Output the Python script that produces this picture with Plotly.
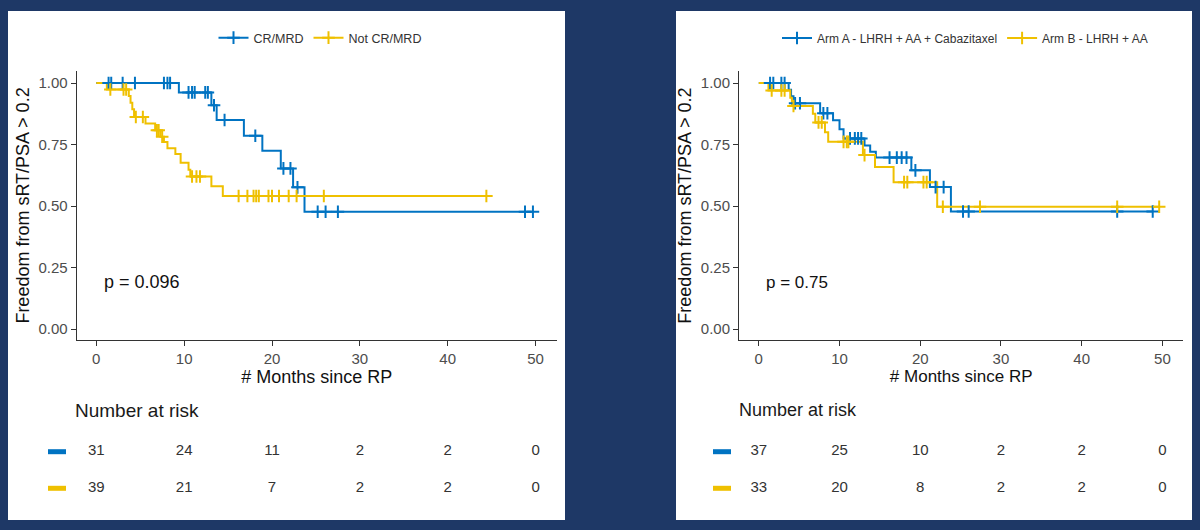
import numpy as np
import plotly.graph_objects as go

# ---------------- data ----------------
risk_times = [0, 10, 20, 30, 40, 50]

# Left panel: CR/MRD vs Not CR/MRD
left_names = ["CR/MRD", "Not CR/MRD"]
left_a_event_t = [9.4, 13.1, 13.7, 16.8, 18.9, 21.0, 22.4, 23.7]
left_a_event_s = [0.962, 0.910, 0.850, 0.786, 0.725, 0.653, 0.576, 0.477]
left_a_cens_t = [1.4, 1.7, 3.0, 4.4, 7.7, 8.1, 8.4, 10.5, 10.9, 11.2, 12.4, 12.7,
                 13.4, 14.6, 18.1, 21.3, 22.1, 22.9, 25.2, 26.1, 27.5, 48.8, 49.7]
left_b_event_t = [1.2, 3.7, 3.9, 4.1, 4.3, 5.6, 6.7, 7.3, 7.7, 8.1, 9.0, 9.6,
                  10.5, 10.7, 13.1, 14.4]
left_b_event_s = [0.974, 0.947, 0.920, 0.893, 0.862, 0.836, 0.808, 0.782, 0.760,
                  0.735, 0.712, 0.676, 0.648, 0.620, 0.580, 0.541]
left_b_cens_t = [1.6, 3.1, 3.4, 4.5, 5.3, 6.9, 7.1, 7.5, 10.9, 11.4, 11.8, 16.2,
                 17.2, 17.9, 18.2, 18.5, 19.6, 20.0, 20.8, 21.9, 22.8, 25.9, 44.4]
left_risk_a = [31, 24, 11, 2, 2, 0]
left_risk_b = [39, 21, 7, 2, 2, 0]
left_p = "p = 0.096"

# Right panel: Arm A vs Arm B
right_names = ["Arm A - LHRH + AA + Cabazitaxel", "Arm B - LHRH + AA"]
right_a_event_t = [3.7, 4.0, 4.3, 7.6, 9.2, 10.0, 10.5, 13.1, 13.8, 14.5, 18.9, 21.2, 23.8]
right_a_event_s = [0.973, 0.946, 0.918, 0.877, 0.849, 0.812, 0.775, 0.746, 0.721,
                   0.697, 0.645, 0.577, 0.478]
right_a_cens_t = [1.4, 1.8, 2.8, 3.2, 4.5, 5.1, 8.0, 8.5, 11.3, 11.9, 12.3, 12.7,
                  16.2, 17.1, 17.7, 18.3, 19.4, 21.9, 22.9, 25.3, 26.0, 44.4, 48.8]
right_b_event_t = [1.2, 3.9, 4.1, 6.7, 7.0, 8.2, 8.6, 12.9, 14.4, 16.7, 22.1]
right_b_event_s = [0.970, 0.940, 0.907, 0.875, 0.840, 0.800, 0.761, 0.707, 0.659,
                   0.597, 0.497]
right_b_cens_t = [1.6, 2.8, 3.2, 4.3, 7.4, 7.8, 10.5, 10.9, 11.1, 13.1, 18.0, 18.4,
                  20.4, 20.8, 22.8, 27.4, 44.4, 49.6]
right_risk_a = [37, 25, 10, 2, 2, 0]
right_risk_b = [33, 20, 8, 2, 2, 0]
right_p = "p = 0.75"

y_ticks = [0, 0.25, 0.5, 0.75, 1.0]
x_title = "# Months since RP"
y_title = "Freedom from sRT/PSA > 0.2"

# ---------------- styling ----------------
W, H = 1200, 530
def px(x):
    return x / W
def py(y):
    return 1 - y / H

BLUE = "#0073C2"
GOLD = "#EFC000"
NAVY = "#1e3866"
FONT = "Liberation Sans, Arial, Helvetica, sans-serif"
AXIS_COL = "#333333"
TICK_COL = "#4d4d4d"

fig = go.Figure()


def km(ev_t, ev_s, cens_t, color, name, xa, ya, legend):
    end_t = max(ev_t[-1], max(cens_t))
    xs = [0] + list(ev_t) + [end_t]
    ys = [1.0] + list(ev_s) + [ev_s[-1]]
    line = go.Scatter(x=xs, y=ys, mode="lines", line=dict(color=color, width=2, shape="hv"),
                      xaxis=xa, yaxis=ya, showlegend=False, hoverinfo="skip")
    steps = np.r_[1.0, np.array(ev_s)]
    idx = np.searchsorted(np.array(ev_t), np.array(cens_t), side="right")
    cy = steps[idx]
    marks = go.Scatter(x=cens_t, y=cy, mode="markers",
                       marker=dict(symbol="cross-thin", size=9,
                                   line=dict(color=color, width=2), color=color),
                       xaxis=xa, yaxis=ya, showlegend=False, hoverinfo="skip")
    leg = go.Scatter(x=[None], y=[None], mode="lines+markers", name=name,
                     line=dict(color=color, width=2),
                     marker=dict(symbol="cross-thin", size=9,
                                 line=dict(color=color, width=2), color=color),
                     xaxis=xa, yaxis=ya, legend=legend)
    return line, marks, leg


la = km(left_a_event_t, left_a_event_s, left_a_cens_t, BLUE, left_names[0], "x", "y", "legend")
lb = km(left_b_event_t, left_b_event_s, left_b_cens_t, GOLD, left_names[1], "x", "y", "legend")
ra = km(right_a_event_t, right_a_event_s, right_a_cens_t, BLUE, right_names[0], "x2", "y2", "legend2")
rb = km(right_b_event_t, right_b_event_s, right_b_cens_t, GOLD, right_names[1], "x2", "y2", "legend2")

for grp in [(la, lb), (ra, rb)]:
    a, b = grp
    fig.add_trace(a[0]); fig.add_trace(b[0])
    fig.add_trace(a[1]); fig.add_trace(b[1])
    fig.add_trace(a[2]); fig.add_trace(b[2])

# risk tables
fig.add_trace(go.Scatter(x=risk_times + risk_times, y=[1] * 6 + [0] * 6,
                         text=[str(v) for v in left_risk_a + left_risk_b],
                         mode="text", textfont=dict(size=15, color="#333333", family=FONT),
                         xaxis="x3", yaxis="y3", showlegend=False, hoverinfo="skip",
                         cliponaxis=False))
fig.add_trace(go.Scatter(x=risk_times + risk_times, y=[1] * 6 + [0] * 6,
                         text=[str(v) for v in right_risk_a + right_risk_b],
                         mode="text", textfont=dict(size=15, color="#333333", family=FONT),
                         xaxis="x4", yaxis="y4", showlegend=False, hoverinfo="skip",
                         cliponaxis=False))

# ---------------- axes ----------------
L_dom = [px(76.7), px(557)]
R_dom = [px(739), px(1183.4)]
L_rng = [-2.23, 52.44]
R_rng = [-2.45, 52.6]
Y_dom = [py(340), py(71)]
Y_rng = [-0.0447, 1.049]
T_dom = [py(506.6), py(433.4)]


def xax(dom, rng, anchor, title_size):
    return dict(domain=dom, range=rng, anchor=anchor, tickvals=risk_times,
                showline=True, linecolor=AXIS_COL, linewidth=1, ticks="outside",
                ticklen=5, tickcolor=AXIS_COL, tickwidth=1, showgrid=False, zeroline=False,
                tickfont=dict(size=15, color=TICK_COL, family=FONT),
                title=dict(text=x_title, font=dict(size=title_size, color="#111111", family=FONT),
                           standoff=3))


def yax(anchor):
    return dict(domain=Y_dom, range=Y_rng, anchor=anchor, tickvals=y_ticks,
                ticktext=[f"{v:.2f}" for v in y_ticks],
                showline=True, linecolor=AXIS_COL, linewidth=1, ticks="outside",
                ticklen=5, tickcolor=AXIS_COL, tickwidth=1, showgrid=False, zeroline=False,
                tickfont=dict(size=15, color=TICK_COL, family=FONT),
                title=dict(text=y_title, font=dict(size=18, color="#111111", family=FONT),
                           standoff=4))


shapes = [
    dict(type="rect", xref="paper", yref="paper", x0=px(8), x1=px(565), y0=py(520), y1=py(11),
         fillcolor="white", line=dict(width=0), layer="below"),
    dict(type="rect", xref="paper", yref="paper", x0=px(676), x1=px(1192), y0=py(520), y1=py(11),
         fillcolor="white", line=dict(width=0), layer="below"),
]
for (x0, x1) in [(48, 66), (713, 731)]:
    for (yc, col) in [(451.7, BLUE), (488.3, GOLD)]:
        shapes.append(dict(type="rect", xref="paper", yref="paper", x0=px(x0), x1=px(x1),
                           y0=py(yc + 2.5), y1=py(yc - 2.5), fillcolor=col, line=dict(width=0)))

annotations = [
    dict(text="Number at risk", xref="paper", yref="paper", x=px(73), y=py(410),
         xanchor="left", yanchor="middle", showarrow=False,
         font=dict(size=19, color="#1a1a1a", family=FONT)),
    dict(text="Number at risk", xref="paper", yref="paper", x=px(737), y=py(410),
         xanchor="left", yanchor="middle", showarrow=False,
         font=dict(size=18, color="#1a1a1a", family=FONT)),
    dict(text=left_p, xref="x", yref="y", x=0.7, y=0.19, xanchor="left", yanchor="middle",
         showarrow=False, font=dict(size=18, color="#111111", family=FONT)),
    dict(text=right_p, xref="x2", yref="y2", x=0.7, y=0.19, xanchor="left", yanchor="middle",
         showarrow=False, font=dict(size=17, color="#111111", family=FONT)),
]

fig.update_layout(
    width=W, height=H, margin=dict(l=0, r=0, t=0, b=0),
    paper_bgcolor=NAVY, plot_bgcolor="white",
    font=dict(family=FONT),
    xaxis=xax(L_dom, L_rng, "y", 18),
    yaxis=yax("x"),
    xaxis2=xax(R_dom, R_rng, "y2", 17),
    yaxis2=yax("x2"),
    xaxis3=dict(domain=L_dom, range=L_rng, anchor="y3", visible=False),
    yaxis3=dict(domain=T_dom, range=[-0.5, 1.5], anchor="x3", visible=False),
    xaxis4=dict(domain=R_dom, range=R_rng, anchor="y4", visible=False),
    yaxis4=dict(domain=T_dom, range=[-0.5, 1.5], anchor="x4", visible=False),
    legend=dict(orientation="h", x=px(320), xanchor="center", y=py(38), yanchor="middle",
                font=dict(size=12.5, color="#333333", family=FONT), bgcolor="rgba(0,0,0,0)",
                itemwidth=30),
    legend2=dict(orientation="h", x=px(965), xanchor="center", y=py(38), yanchor="middle",
                 font=dict(size=12, color="#333333", family=FONT), bgcolor="rgba(0,0,0,0)",
                 itemwidth=30),
    shapes=shapes,
    annotations=annotations,
)

fig.write_html("out.html")
